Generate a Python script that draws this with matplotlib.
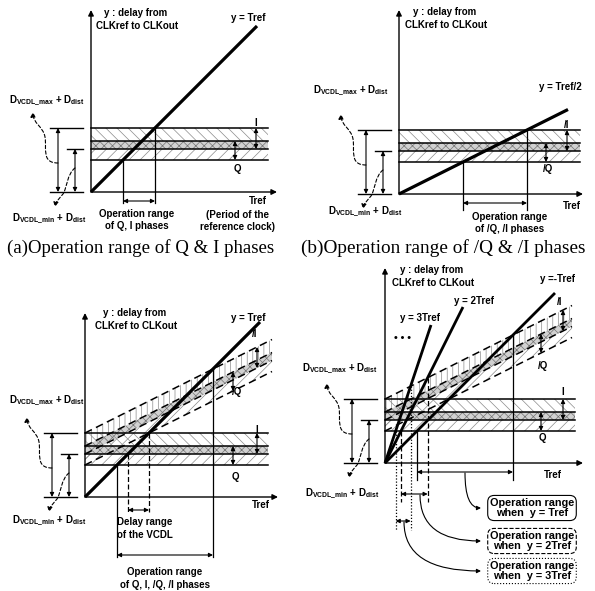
import numpy as np
import matplotlib.pyplot as plt
from matplotlib.patches import FancyArrowPatch
from matplotlib.path import Path

plt.rcParams["font.family"] = ["Liberation Sans", "DejaVu Sans"]
plt.rcParams["mathtext.fontset"] = "custom"
plt.rcParams["mathtext.rm"] = "Liberation Sans"
plt.rcParams["mathtext.bf"] = "Liberation Sans:bold"
plt.rcParams["hatch.linewidth"] = 0.5

# --- schematic values (pixel units, Tref on x, delay on y) ---
band_levels = [64, 51, 43, 32]          # band edges above origin
band_I = (43, 64)                       # I / /I phase band
band_Q = (32, 51)                       # Q / /Q phase band
slope_a = [1.0]                         # y = Tref
slope_b = [0.5]                         # y = Tref/2
slope_c = [1.0]
slope_d = [1.0, 2.0, 3.0]               # y = Tref, 2Tref, 3Tref
line_end_d = [170, 78, 46]              # Tref where each line stops
sloped_gain = 0.5                       # /Q, /I bands move with Tref/2
line_names_d = ["y =-Tref", "y = 2Tref", "y = 3Tref"]
range_styles_d = ["-", (0, (4, 2)), (0, (1, 1.5))]
box_texts = ["Operation range\nwhen  y = Tref",
             "Operation range\nwhen  y = 2Tref",
             "Operation range\nwhen  y = 3Tref"]

D_MAX = r"D$_{\mathbf{VCDL\_max}}$ + D$_{\mathbf{dist}}$"
D_MIN = r"D$_{\mathbf{VCDL\_min}}$ + D$_{\mathbf{dist}}$"
FS = 7

fig = plt.figure(figsize=(5.95, 5.91), dpi=100)
ax = fig.add_axes([0, 0, 1, 1])
ax.set_xlim(0, 595)
ax.set_ylim(591, 0)
ax.axis("off")


def txt(x, y, s, ha="center", size=FS, **kw):
    ax.text(x, y, s, ha=ha, va="center", fontsize=size, fontweight="bold", **kw)


def darrow(x1, y1, x2, y2, ls="-"):
    ax.annotate("", xy=(x1, y1), xytext=(x2, y2),
                arrowprops=dict(arrowstyle="<|-|>", mutation_scale=6, lw=0.8,
                                color="k", shrinkA=0, shrinkB=0, linestyle=ls))


def axes_frame(ox, oy, ytop, xend):
    ax.annotate("", xy=(ox, ytop), xytext=(ox, oy),
                arrowprops=dict(arrowstyle="-|>", mutation_scale=8, lw=1.0,
                                color="k", shrinkA=0, shrinkB=0))
    ax.annotate("", xy=(xend, oy), xytext=(ox, oy),
                arrowprops=dict(arrowstyle="-|>", mutation_scale=8, lw=1.0,
                                color="k", shrinkA=0, shrinkB=0))


def band(ox, oy, length, gain=0.0, dashed=False):
    t = np.linspace(0, length, 2)
    y = lambda lv: oy - (lv + gain * t)
    hI = "|||" if dashed else "\\\\\\"
    ax.fill_between(ox + t, y(band_I[0]), y(band_I[1]), facecolor="none",
                    edgecolor="0.55", lw=0, hatch=hI)
    ax.fill_between(ox + t, y(band_Q[0]), y(band_Q[1]), facecolor="none",
                    edgecolor="0.55", lw=0, hatch="///")
    ax.fill_between(ox + t, y(band_I[0]), y(band_Q[1]), facecolor="0.82",
                    edgecolor="0.45", lw=0, hatch="xxxx")
    for lv in band_levels:
        if dashed:
            ax.plot(ox + t, y(lv), color="k", lw=1.1, dashes=(5, 3))
        else:
            ax.plot(ox + t, y(lv), color="k", lw=1.1)


def band_marks(ox, oy, xi, xq, gain=0.0):
    darrow(ox + xi, oy - band_I[0] - gain * xi, ox + xi, oy - band_I[1] - gain * xi)
    darrow(ox + xq, oy - band_Q[0] - gain * xq, ox + xq, oy - band_Q[1] - gain * xq)


def dashed_curve(verts):
    codes = [Path.MOVETO] + [Path.CURVE4] * (len(verts) - 1)
    p = FancyArrowPatch(path=Path(verts, codes), arrowstyle="-|>",
                        mutation_scale=7, lw=0.8, color="k",
                        linestyle=(0, (3, 2)))
    ax.add_patch(p)


def left_brackets(ox, oy, max_pos, min_pos):
    for lv, x0 in ((band_I[1], ox - 41), (band_I[0], ox - 24), (0, ox - 41)):
        ax.plot([x0, ox - 8], [oy - lv, oy - lv], color="k", lw=1.0)
    darrow(ox - 33, oy, ox - 33, oy - band_I[1])
    darrow(ox - 16, oy, ox - 16, oy - band_I[0])
    dashed_curve([(ox - 33, oy - 29), (ox - 50, oy - 29), (ox - 44, oy - 44),
                  (ox - 46, oy - 55), (ox - 48, oy - 66), (ox - 58, oy - 68),
                  (ox - 58, oy - 80)])
    dashed_curve([(ox - 16, oy - 24), (ox - 24, oy - 18), (ox - 24, oy - 4),
                  (ox - 28, oy + 2), (ox - 32, oy + 7), (ox - 35, oy + 9),
                  (ox - 36, oy + 15)])
    txt(max_pos[0], max_pos[1], D_MAX)
    txt(min_pos[0], min_pos[1], D_MIN)


def y_label(x, y):
    txt(x, y, "y : delay from")
    txt(x + 1, y + 13, "CLKref to CLKout")


# ---------------- (a) ----------------
ox, oy = 91, 192
band(ox, oy, 177)
band_marks(ox, oy, 165, 144)
axes_frame(ox, oy, 10, 277)
t = np.array([0, 166])
ax.plot(ox + t, oy - slope_a[0] * t, color="k", lw=2.3, solid_capstyle="butt")
t1, t2 = band_Q[0] / slope_a[0], band_I[1] / slope_a[0]
for tt in (t1, t2):
    ax.plot([ox + tt, ox + tt], [oy - slope_a[0] * tt, oy + 11], color="k", lw=0.9)
darrow(ox + t1, oy + 9, ox + t2, oy + 9)
left_brackets(ox, oy, (47, 100), (49, 218))
y_label(136, 13)
txt(248, 18, "y = Tref")
txt(256, 123, "I")
txt(237, 169, "Q")
txt(258, 201, "Tref")
txt(238, 215, "(Period of the")
txt(238, 227, "reference clock)")
txt(137, 214, "Operation range")
txt(137, 226, "of Q, I phases")
ax.text(7, 248, "(a)Operation range of Q & I phases", ha="left", va="center",
        fontsize=13.6, family="Liberation Serif")

# ---------------- (b) ----------------
ox, oy = 399, 194
band(ox, oy, 181)
band_marks(ox, oy, 168, 147)
axes_frame(ox, oy, 10, 583)
t = np.array([0, 169])
ax.plot(ox + t, oy - slope_b[0] * t, color="k", lw=2.3, solid_capstyle="butt")
t1, t2 = band_Q[0] / slope_b[0], band_I[1] / slope_b[0]
for tt in (t1, t2):
    ax.plot([ox + tt, ox + tt], [oy - slope_b[0] * tt, oy + 16], color="k", lw=0.9)
darrow(ox + t1, oy + 9, ox + t2, oy + 9)
left_brackets(ox, oy, (351, 90), (365, 211))
y_label(445, 12)
txt(560, 87, "y = Tref/2")
txt(567, 125, "/I")
txt(548, 169, "/Q")
txt(572, 206, "Tref")
txt(510, 217, "Operation range")
txt(510, 229, "of /Q, /I phases")
ax.text(301, 248, "(b)Operation range of /Q & /I phases", ha="left", va="center",
        fontsize=13.9, family="Liberation Serif")

# ---------------- (c) ----------------
ox, oy = 85, 497
band(ox, oy, 187, gain=sloped_gain, dashed=True)
band(ox, oy, 183)
band_marks(ox, oy, 172, 148)
band_marks(ox, oy, 172, 148, gain=sloped_gain)
axes_frame(ox, oy, 313, 278)
t = np.array([0, 175])
ax.plot(ox + t, oy - slope_c[0] * t, color="k", lw=2.3, solid_capstyle="butt")
t1 = band_Q[0] / slope_c[0]
t2 = band_I[1] / (slope_c[0] - sloped_gain)
for tt in (t1, t2):
    ax.plot([ox + tt, ox + tt], [oy - slope_c[0] * tt, oy + 60], color="k", lw=0.9)
darrow(ox + t1, oy + 58, ox + t2, oy + 58)
d1, d2 = band_I[0] / slope_c[0], band_I[1] / slope_c[0]
for tt in (d1, d2):
    ax.plot([ox + tt, ox + tt], [oy - slope_c[0] * tt, oy + 15], color="k",
            lw=0.9, dashes=(4, 2))
darrow(ox + d1, oy + 13, ox + d2, oy + 13)
left_brackets(ox, oy, (47, 400), (49, 520))
y_label(135, 313)
txt(248, 318, "y = Tref")
txt(255, 334, "/I")
txt(237, 392, "/Q")
txt(257, 430, "I")
txt(235, 477, "Q")
txt(261, 505, "Tref")
txt(145, 522, "Delay range")
txt(145, 535, "of the VCDL")
txt(165, 572, "Operation range")
txt(165, 585, "of Q, I, /Q, /I phases")

# ---------------- (d) ----------------
ox, oy = 385, 463
band(ox, oy, 187, gain=sloped_gain, dashed=True)
band(ox, oy, 190)
band_marks(ox, oy, 178, 156)
band_marks(ox, oy, 178, 156, gain=sloped_gain)
axes_frame(ox, oy, 268, 583)
for s, tend in zip(slope_d, line_end_d):
    t = np.array([0, tend])
    ax.plot(ox + t, oy - s * t, color="k", lw=2.0, solid_capstyle="butt")

arrow_y = [9, 31, 58]
bottom_y = [17, 39, 67]
box_y = [508, 541, 571]
box_ls = ["-", "--", ":"]
start_x = [465, 420, 404]
for s, ls, ay, by in zip(slope_d, range_styles_d, arrow_y, bottom_y):
    t1 = band_Q[0] / s
    t2 = band_I[1] / (s - sloped_gain)
    for tt in (t1, t2):
        ax.plot([ox + tt, ox + tt], [oy - s * tt, oy + by], color="k", lw=0.9,
                linestyle=ls)
    darrow(ox + t1, oy + ay, ox + t2, oy + ay)

for text, by, bls, sx, ay in zip(box_texts, box_y, box_ls, start_x, arrow_y):
    ax.text(532, by, text, ha="center", va="center", fontsize=7.8,
            fontweight="bold", linespacing=1.1,
            bbox=dict(boxstyle="round,pad=0.2,rounding_size=0.6", fc="white",
                      ec="k", lw=0.8, linestyle=bls))
    ax.annotate("", xy=(481, by), xytext=(sx, oy + ay + 1),
                arrowprops=dict(arrowstyle="-|>", mutation_scale=6, lw=0.8,
                                color="k", shrinkA=0, shrinkB=0,
                                connectionstyle="angle3,angleA=90,angleB=0"))

left_brackets(ox, oy, (340, 368), (342, 493))
y_label(432, 270)
for name, pos in zip(line_names_d, [(557, 279), (474, 301), (420, 318)]):
    txt(pos[0], pos[1], name)
txt(403, 338, "• • •", size=7.5)
txt(560, 302, "/I")
txt(543, 366, "/Q")
txt(563, 392, "I")
txt(542, 438, "Q")
txt(553, 475, "Tref")

fig.savefig("out.png", dpi=100)
